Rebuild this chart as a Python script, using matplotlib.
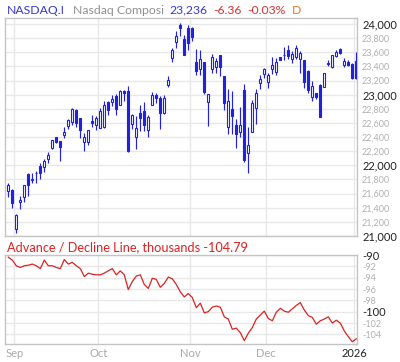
import pandas as pd
import numpy as np
import matplotlib
matplotlib.use('Agg')
import matplotlib.pyplot as plt
from matplotlib.patches import Rectangle

plt.rcParams['font.family'] = ['Lato', 'DejaVu Sans']

# trading days shown (Aug 28 2025 .. Jan 2 2026)
holidays = ['2025-09-01', '2025-11-27', '2025-12-25']
dates = pd.bdate_range('2025-08-28', '2026-01-02')
dates = dates[~dates.isin(pd.to_datetime(holidays))]

opens = [21637, 21651, 21103, 21477, 21548, 21877, 21792, 21887, 21990, 21981,
         22094, 22245, 22397, 22344, 22433, 22557, 22609, 22787, 22666, 22326,
         22326, 22623, 22575, 22533, 22538, 22892, 22896, 22981, 22850, 23048,
         23048, 22581, 22397, 22736, 22769, 22504, 22850, 22995, 22957, 22745,
         23141, 23523, 23749, 23982, 23788, 23939, 23943, 23458, 23359, 23458,
         22892, 23359, 23396, 23561, 23264, 22547, 22793, 22566, 22467, 23066,
         22170, 22476, 22807, 23161, 23288, 23179, 23367, 23321, 23533, 23558,
         23628, 23500, 23533, 23500, 23491, 23335, 22971, 23019, 23132, 23113,
         23452, 23396, 23547, 23642, 23416, 23462, 23430, 23476]
highs = [21754, 21670, 21311, 21562, 21722, 21891, 21896, 21920, 22029, 22090,
         22184, 22358, 22408, 22351, 22538, 22660, 22816, 22801, 22670, 22462,
         22500, 22712, 22694, 22807, 22910, 22915, 22995, 23005, 23066, 23066,
         23123, 22731, 22698, 22854, 22896, 22708, 23038, 23028, 22981, 22999,
         23264, 23656, 23905, 24018, 23840, 23982, 23962, 23646, 23632, 23462,
         23009, 23575, 23515, 23561, 23264, 23080, 23052, 22656, 22821, 23151,
         22538, 22925, 23076, 23274, 23377, 23311, 23533, 23515, 23533, 23675,
         23699, 23618, 23699, 23618, 23491, 23349, 23194, 23024, 23147, 23307,
         23486, 23561, 23628, 23665, 23523, 23491, 23452, 23604]
lows = [21548, 21401, 21047, 21378, 21477, 21562, 21750, 21746, 21811, 21910,
        22029, 22231, 22312, 22066, 22382, 22510, 22571, 22538, 22391, 22199,
        22292, 22538, 22500, 22524, 22533, 22717, 22835, 22717, 22847, 22906,
        22189, 22510, 22227, 22486, 22486, 22401, 22847, 22886, 22518, 22722,
        23113, 23462, 23665, 23830, 23561, 23632, 23759, 23278, 23278, 23005,
        22557, 23302, 23311, 23268, 22783, 22439, 22439, 22241, 22397, 22051,
        21896, 22476, 22585, 23076, 23240, 23099, 23288, 23274, 23484, 23486,
        23500, 23444, 23500, 23302, 23090, 23028, 22911, 22934, 22688, 23113,
        23406, 23382, 23533, 23571, 23396, 23406, 23217, 23217]
closes = [21717, 21463, 21301, 21509, 21717, 21717, 21811, 21896, 21896, 22061,
          22142, 22354, 22330, 22264, 22476, 22641, 22797, 22595, 22500, 22397,
          22496, 22595, 22666, 22769, 22850, 22779, 22943, 22801, 23048, 23019,
          22203, 22708, 22524, 22674, 22566, 22684, 22991, 22948, 22736, 22953,
          23203, 23628, 23830, 23948, 23566, 23727, 23820, 23339, 23500, 23042,
          23005, 23529, 23476, 23396, 22878, 22906, 22702, 22439, 22566, 22075,
          22283, 22878, 23028, 23217, 23359, 23274, 23416, 23467, 23491, 23564,
          23547, 23571, 23656, 23594, 23183, 23062, 23123, 22967, 22688, 23302,
          23430, 23557, 23608, 23585, 23476, 23416, 23242, 23236]

# advance/decline line, thousands
ad_line = [-90.4, -90.9, -91.9, -92.2, -91.9, -91.8, -91.6, -91.9, -92.4, -90.9,
           -91.9, -91.9, -92.2, -92.4, -90.8, -91.6, -91.3, -91.9, -92.4, -93.8,
           -93.2, -93.4, -93.5, -93.5, -93.2, -92.8, -92.4, -93.5, -92.8, -93.5,
           -96.1, -94.7, -93.7, -93.5, -95.2, -95.9, -94.1, -94.3, -95.7, -95.0,
           -93.9, -94.2, -95.2, -96.5, -97.4, -96.8, -97.5, -99.3, -98.5, -100.2,
           -100.0, -99.2, -99.0, -99.2, -100.9, -101.3, -103.1, -102.9, -103.7, -105.1,
           -103.8, -102.8, -101.3, -100.6, -99.9, -101.2, -101.6, -100.1, -99.4, -99.9,
           -100.1, -99.5, -98.9, -98.4, -99.7, -100.7, -101.0, -102.2, -101.6, -101.3,
           -100.9, -102.0, -101.5, -102.0, -103.4, -104.4, -105.3, -104.79]

blue = '#2222dd'
red = '#dd2222'
grid_c = '#e8e8e8'
spine_c = '#c4c4c4'

W, H = 400, 362
fig = plt.figure(figsize=(W / 100, H / 100), dpi=100)
ax = fig.add_axes([5.3 / W, 1 - 236 / H, 351.2 / W, 218 / H])
ax2 = fig.add_axes([5.3 / W, 1 - 344 / H, 351.2 / W, 89 / H])

x = np.arange(len(closes))

# month boundaries (half a bar before first bar of month)
month_idx = [i for i in range(1, len(dates)) if dates[i].month != dates[i - 1].month]
month_pos = [i - 0.5 for i in month_idx]
month_lbl = ['Sep', 'Oct', 'Nov', 'Dec', '2026']

# candles
ax.vlines(x, lows, highs, color=blue, linewidth=0.85, zorder=3)
bw = 0.5
for i in range(len(closes)):
    o, c = opens[i], closes[i]
    lo, hi = min(o, c), max(o, c)
    h = max(hi - lo, 8)
    fill = 'white' if c > o else blue
    ax.add_patch(Rectangle((x[i] - bw / 2, lo), bw, h, facecolor=fill,
                           edgecolor=blue, linewidth=0.8, zorder=4))

ax2.plot(x, ad_line, color=red, linewidth=0.9, zorder=3)

for a in (ax, ax2):
    a.set_xlim(-0.75, 87.05)
    a.set_xticks(month_pos)
    a.yaxis.tick_right()
    a.tick_params(length=0)
    a.grid(True, color=grid_c, linewidth=1)
    a.set_axisbelow(True)
    for s in a.spines.values():
        s.set_color(spine_c)
        s.set_linewidth(1)

ax.set_ylim(21000, 24085)
yt = list(range(21000, 24001, 200))
ax.set_yticks(yt)
ax.set_yticklabels([f'{v:,}' for v in yt])
for v, lab in zip(yt, ax.get_yticklabels()):
    if v % 1000 == 0:
        lab.set_color('#222222')
        lab.set_fontsize(8)
    else:
        lab.set_color('#b0b0b0')
        lab.set_fontsize(6.5)
ax.tick_params(axis='y', pad=4)
ax.set_xticklabels([])

ax2.set_ylim(-105.7, -90)
yt2 = list(range(-104, -89, 2))
ax2.set_yticks(yt2)
ax2.set_yticklabels([str(v) for v in yt2])
for v, lab in zip(yt2, ax2.get_yticklabels()):
    if v % 10 == 0:
        lab.set_color('#222222')
        lab.set_fontsize(8)
    else:
        lab.set_color('#b0b0b0')
        lab.set_fontsize(6.5)
ax2.tick_params(axis='y', pad=4)
ax2.set_xticklabels(month_lbl)
for lab in ax2.get_xticklabels():
    lab.set_fontsize(8)
    lab.set_color('#222222' if lab.get_text() == '2026' else '#a8a8a8')
ax2.tick_params(axis='x', pad=3)

# header texts
def px(xp, yp, s, col, size=8.8):
    fig.text(xp / W, 1 - yp / H, s, color=col, fontsize=size, ha='left', va='center')

px(7.3, 10, 'NASDAQ.I', '#3838d8')
px(73.3, 10, 'Nasdaq Composi', '#909090')
px(169.3, 10, '23,236', '#3838d8')
px(213.3, 10, '-6.36', '#e03030')
px(247.7, 10, '-0.03%', '#e03030')
px(291.7, 10, 'D', '#f07820')
px(7.3, 246.7, 'Advance / Decline Line, thousands -104.79', red, 9.2)

fig.savefig('out.png', dpi=100)
